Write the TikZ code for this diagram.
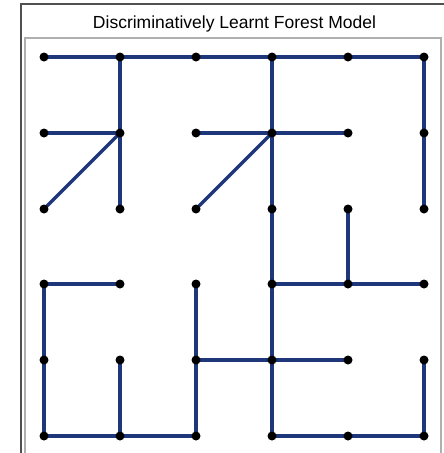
\documentclass[tikz,border=0pt]{standalone}
\usepackage{fontspec}
\setmainfont{Liberation Sans}
\usetikzlibrary{backgrounds}
\definecolor{edgeblue}{RGB}{30,54,122}
\definecolor{outergray}{RGB}{80,80,80}
\definecolor{innergray}{RGB}{175,175,175}
\tikzset{
  dot/.style={circle,fill=black,draw=none,inner sep=0pt,minimum size=9pt},
  link/.style={draw=edgeblue,line width=3.3pt},
  frameout/.style={draw=outergray,line width=1.2pt},
  framein/.style={draw=innergray,line width=1.4pt}
}
\begin{document}
\begin{tikzpicture}[x=1pt,y=-1pt]
\useasboundingbox (0,0) rectangle (444,453);
% frames
\coordinate (o1) at (21,453);
\coordinate (o2) at (21,4);
\coordinate (o3) at (444,4);
\draw[frameout] (o1) -- (o2) -- (o3);
\coordinate (i1) at (25,453);
\coordinate (i2) at (25,38);
\coordinate (i3) at (441,38);
\coordinate (i4) at (441,453);
\draw[framein] (i1) -- (i2) -- (i3) -- (i4);
\node[font=\fontsize{17.5}{20}\selectfont,anchor=base] (title) at (234.5,28) {Discriminatively Learnt Forest Model};
% nodes
\foreach \c/\x in {1/44,2/120,3/196,4/272,5/348,6/424}{
  \foreach \r/\y in {1/57,2/133,3/209,4/284,5/360,6/436}{
    \node[dot] (n\c\r) at (\x,\y) {};
  }
}
% edges
\begin{pgfonlayer}{background}
\path[link] (n11.center) -- (n21.center) (n21.center) -- (n31.center) (n31.center) -- (n41.center) (n41.center) -- (n51.center) (n51.center) -- (n61.center);
\path[link] (n21.center) -- (n22.center) (n22.center) -- (n23.center);
\path[link] (n12.center) -- (n22.center);
\path[link] (n13.center) -- (n22.center);
\path[link] (n32.center) -- (n42.center) (n42.center) -- (n52.center);
\path[link] (n33.center) -- (n42.center);
\path[link] (n41.center) -- (n42.center) (n42.center) -- (n43.center) (n43.center) -- (n44.center) (n44.center) -- (n45.center) (n45.center) -- (n46.center);
\path[link] (n61.center) -- (n62.center) (n62.center) -- (n63.center);
\path[link] (n53.center) -- (n54.center);
\path[link] (n44.center) -- (n54.center) (n54.center) -- (n64.center);
\path[link] (n14.center) -- (n24.center);
\path[link] (n14.center) -- (n15.center) (n15.center) -- (n16.center);
\path[link] (n25.center) -- (n26.center);
\path[link] (n34.center) -- (n35.center) (n35.center) -- (n36.center);
\path[link] (n35.center) -- (n45.center) (n45.center) -- (n55.center);
\path[link] (n16.center) -- (n26.center) (n26.center) -- (n36.center);
\path[link] (n46.center) -- (n56.center) (n56.center) -- (n66.center);
\path[link] (n65.center) -- (n66.center);
\end{pgfonlayer}
\end{tikzpicture}
\end{document}
